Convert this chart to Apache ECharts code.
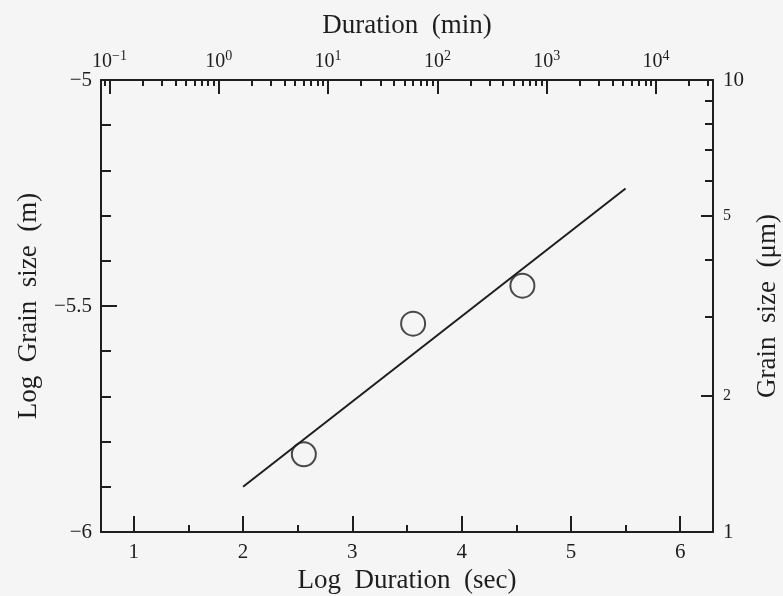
<!DOCTYPE html>
<html>
<head>
<meta charset="utf-8">
<script src="https://cdn.jsdelivr.net/npm/echarts@6/dist/echarts.min.js"></script>
<style>
  html, body { margin: 0; padding: 0; background: #f5f5f5; }
  #chart { width: 783px; height: 596px; }
</style>
</head>
<body>
<div id="chart"></div>
<script>
// Measured grain sizes vs. annealing duration
const logDurationSec = [2.556, 3.556, 4.556];
const logGrainSize = [-5.828, -5.539, -5.455];

// Least-squares fit line, drawn between its two end points
const fitLogDuration = [2.0, 5.5];
const fitLogGrain = [-5.90, -5.24];

// Tick positions and labels
const bottomMajorTicks = [1, 2, 3, 4, 5, 6];
const bottomMinorTicks = [1.5, 2.5, 3.5, 4.5, 5.5];
const leftTickLabels = [-6, -5.5, -5];
const topDecadeExponents = [-1, 0, 1, 2, 3, 4];
const topMinorMultipliers = [2, 3, 4, 5, 6, 7, 8, 9];
const rightTickLabels = [1, 2, 5, 10];
const rightMinorValues = [3, 4, 6, 7, 8, 9];

const X_MIN = 0.7, X_MAX = 6.3;
const Y_MIN = -6, Y_MAX = -5;
const SEC_PER_MIN = Math.log10(60);

// minutes (log) -> log seconds
const minExpToLogSec = e => e + SEC_PER_MIN;
const topMajorPos = topDecadeExponents.map(minExpToLogSec);
const topMinorPos = [];
for (let e = -2; e <= 5; e++) {
  topMinorMultipliers.forEach(k => {
    const p = Math.log10(k) + e + SEC_PER_MIN;
    if (p > X_MIN && p < X_MAX) topMinorPos.push(p);
  });
}
// micrometres -> log metres
const umToLogM = v => Math.log10(v) - 6;
const rightLabelPos = rightTickLabels.map(umToLogM);
const rightMajorTickPos = [2, 5].map(umToLogM);
const rightMinorPos = rightMinorValues.map(umToLogM);

const INK = '#1e1e1e';
const SERIF = '"Liberation Serif", "DejaVu Serif", serif';
const NAME_SIZE = 27;
const LABEL_SIZE = 21;
const minus = s => String(s).replace('-', '\u2212');
const nearestIndex = (arr, v) => {
  let best = 0;
  arr.forEach((a, i) => { if (Math.abs(a - v) < Math.abs(arr[best] - v)) best = i; });
  return best;
};

const lineStyle = { color: INK, width: 2 };
const nameStyle = { fontFamily: SERIF, fontSize: NAME_SIZE, color: INK };

const chart = echarts.init(document.getElementById('chart'));
chart.setOption({
  backgroundColor: '#f5f5f5',
  animation: false,
  grid: { left: 101, right: 70, top: 80, bottom: 64, containLabel: false, outerBoundsMode: 'none' },
  xAxis: [
    {
      type: 'value', position: 'bottom', min: X_MIN, max: X_MAX,
      name: 'Log  Duration  (sec)', nameLocation: 'middle', nameGap: 32,
      nameTextStyle: nameStyle,
      axisLine: { show: true, onZero: false, lineStyle },
      axisTick: { show: true, inside: true, length: 16, customValues: bottomMajorTicks, lineStyle },
      axisLabel: {
        customValues: bottomMajorTicks, margin: 10,
        fontFamily: SERIF, fontSize: LABEL_SIZE, color: INK
      },
      splitLine: { show: false }
    },
    {
      type: 'value', position: 'bottom', min: X_MIN, max: X_MAX,
      axisLine: { show: false, onZero: false },
      axisTick: { show: true, inside: true, length: 7, customValues: bottomMinorTicks, lineStyle },
      axisLabel: { show: false },
      splitLine: { show: false }
    },
    {
      type: 'value', position: 'top', min: X_MIN, max: X_MAX,
      name: 'Duration  (min)', nameLocation: 'middle', nameGap: 41,
      nameTextStyle: nameStyle,
      axisLine: { show: true, onZero: false, lineStyle },
      axisTick: { show: true, inside: true, length: 14, customValues: topMajorPos, lineStyle },
      axisLabel: {
        customValues: topMajorPos, margin: 8,
        formatter: v => {
          const e = topDecadeExponents[nearestIndex(topMajorPos, v)];
          return '{b|10}{s|' + minus(e) + '}';
        },
        rich: {
          b: { fontFamily: SERIF, fontSize: 20, color: INK, verticalAlign: 'bottom' },
          s: { fontFamily: SERIF, fontSize: 14, color: INK, verticalAlign: 'bottom', padding: [0, 0, 9, 0] }
        }
      },
      splitLine: { show: false }
    },
    {
      type: 'value', position: 'top', min: X_MIN, max: X_MAX,
      axisLine: { show: false, onZero: false },
      axisTick: { show: true, inside: true, length: 6, customValues: topMinorPos, lineStyle },
      axisLabel: { show: false },
      splitLine: { show: false }
    }
  ],
  yAxis: [
    {
      type: 'value', position: 'left', min: Y_MIN, max: Y_MAX, interval: 0.5,
      name: 'Log  Grain  size  (m)', nameLocation: 'middle', nameGap: 59,
      nameTextStyle: nameStyle,
      axisLine: { show: true, onZero: false, lineStyle },
      axisTick: { show: true, inside: true, length: 16, lineStyle },
      minorTick: { show: true, splitNumber: 5, length: 10, lineStyle },
      axisLabel: {
        margin: 9, fontFamily: SERIF, fontSize: LABEL_SIZE, color: INK,
        formatter: v => minus(leftTickLabels[nearestIndex(leftTickLabels, v)])
      },
      splitLine: { show: false }
    },
    {
      type: 'value', position: 'right', min: Y_MIN, max: Y_MAX,
      name: 'Grain  size  (\u03bcm)', nameLocation: 'middle', nameGap: 41,
      nameTextStyle: nameStyle,
      axisLine: { show: true, onZero: false, lineStyle },
      axisTick: { show: true, inside: true, length: 12, customValues: rightMajorTickPos, lineStyle },
      axisLabel: {
        customValues: rightLabelPos, margin: 10,
        formatter: v => {
          const n = rightTickLabels[nearestIndex(rightLabelPos, v)];
          return (n === 2 || n === 5) ? '{m|' + n + '}' : '{l|' + n + '}';
        },
        rich: {
          l: { fontFamily: SERIF, fontSize: LABEL_SIZE, color: INK },
          m: { fontFamily: SERIF, fontSize: 16, color: INK }
        }
      },
      splitLine: { show: false }
    },
    {
      type: 'value', position: 'right', min: Y_MIN, max: Y_MAX,
      axisLine: { show: false, onZero: false },
      axisTick: { show: true, inside: true, length: 8, customValues: rightMinorPos, lineStyle },
      axisLabel: { show: false },
      splitLine: { show: false }
    }
  ],
  series: [
    {
      type: 'line', xAxisIndex: 0, yAxisIndex: 0,
      data: fitLogDuration.map((x, i) => [x, fitLogGrain[i]]),
      symbol: 'none', lineStyle: { color: INK, width: 2 }, silent: true
    },
    {
      type: 'scatter', xAxisIndex: 0, yAxisIndex: 0,
      data: logDurationSec.map((x, i) => [x, logGrainSize[i]]),
      symbol: 'circle', symbolSize: 24,
      itemStyle: { color: 'rgba(0,0,0,0)', borderColor: INK, borderWidth: 2 }
    }
  ]
});
</script>
</body>
</html>
